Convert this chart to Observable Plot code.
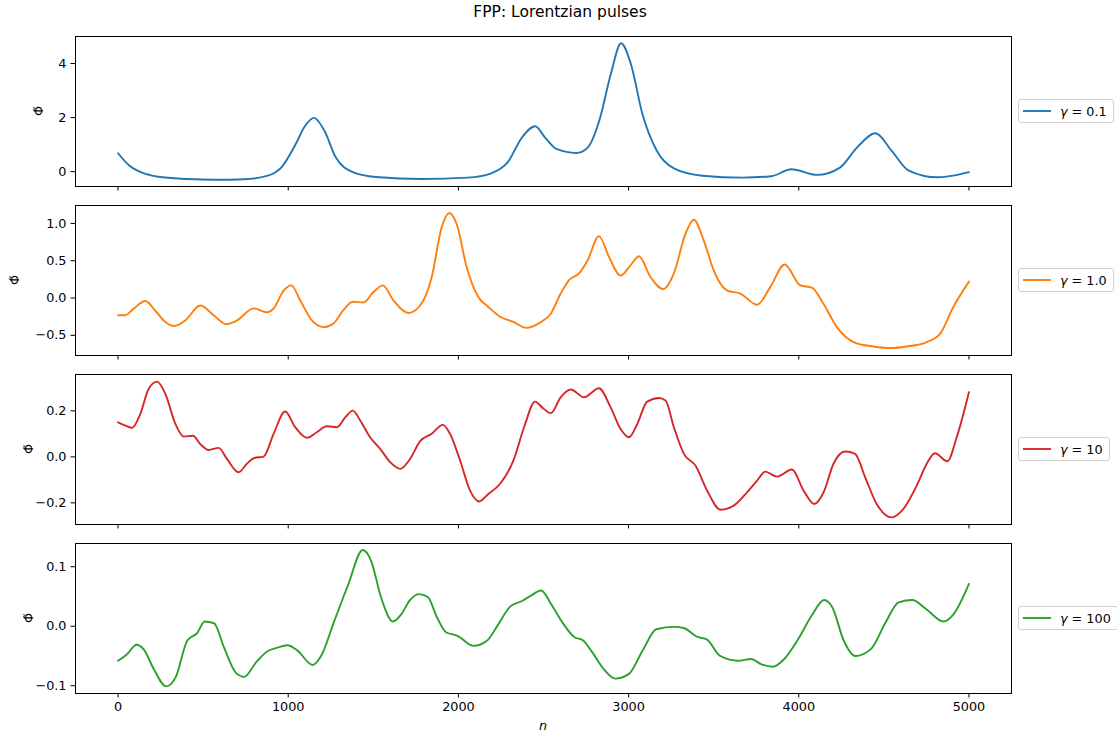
<!DOCTYPE html>
<html>
<head>
<meta charset="utf-8">
<script src="https://cdn.jsdelivr.net/npm/d3@7"></script>
<script src="https://cdn.jsdelivr.net/npm/@observablehq/plot@0.6"></script>
<style>
  html, body { margin: 0; padding: 0; background: #fff; }
  #fig { position: relative; width: 1117px; height: 735px; font-family: "DejaVu Sans", sans-serif; color: #000; overflow: hidden; }
  #title { position: absolute; top: 3px; left: 0; width: 1120px; text-align: center; font-size: 15.5px; }
  .panel { position: absolute; left: 0; }
  .legend { position: absolute; left: 1018px; height: 22px; border: 1px solid #d0d0d0; border-radius: 3px; background: #fff;
            display: flex; align-items: center; padding: 0 6px 0 4px; font-size: 12.8px; white-space: nowrap; }
  .legend svg { margin-right: 9px; }
  .legend i { font-style: italic; margin-right: 4px; }
  .ylabel { position: absolute; width: 40px; height: 20px; line-height: 20px; text-align: center; font-size: 12.8px;
            transform: translate(-50%, -50%) rotate(-90deg); }
  #xlabel { position: absolute; left: 543px; top: 725px; transform: translate(-50%, -50%); font-size: 12.8px; font-style: italic; }
</style>
</head>
<body>
<div id="fig">
  <div id="title">FPP: Lorentzian pulses</div>
  <div id="xlabel">n</div>
</div>
<script>
// Sample index n, shared by every panel
const nTicks = [0, 1000, 2000, 3000, 4000, 5000];

// γ = 0.1
const n01 = [0,67,135,236,404,572,741,875,960,1044,1094,1152,1212,1279,1380,1515,1785,2054,2189,2290,2374,2451,2508,2576,2694,2761,2828,2896,2956,3013,3081,3165,3266,3434,3670,3838,3956,4108,4242,4343,4451,4545,4646,4815,4916,5000];
const phi01 = [0.68,0.22,-0.02,-0.19,-0.27,-0.3,-0.28,-0.16,0.16,1.02,1.64,1.99,1.52,0.53,-0.02,-0.2,-0.27,-0.22,-0.07,0.35,1.27,1.68,1.27,0.84,0.69,0.9,1.89,3.62,4.75,3.99,2.14,0.78,0.12,-0.15,-0.22,-0.17,0.09,-0.12,0.15,0.9,1.42,0.78,0.04,-0.21,-0.14,-0.02];

// γ = 1.0
const n1 = [0,43,92,160,219,278,331,395,483,562,636,699,796,875,914,973,1018,1070,1139,1207,1266,1325,1380,1442,1501,1556,1618,1706,1775,1843,1902,1947,1990,2049,2117,2176,2245,2323,2401,2479,2543,2601,2650,2709,2758,2826,2885,2953,3012,3061,3129,3203,3266,3334,3383,3442,3500,3579,3657,3755,3833,3917,4009,4077,4146,4224,4322,4439,4537,4634,4752,4830,4908,5000];
const phi1 = [-0.23,-0.23,-0.142,-0.04,-0.17,-0.32,-0.374,-0.3,-0.1,-0.23,-0.35,-0.3,-0.138,-0.19,-0.14,0.1,0.17,-0.03,-0.3,-0.39,-0.34,-0.16,-0.05,-0.06,0.08,0.17,-0.03,-0.2,-0.1,0.28,0.95,1.14,0.99,0.41,0.015,-0.12,-0.25,-0.32,-0.4,-0.33,-0.21,0.06,0.24,0.33,0.5,0.83,0.55,0.3,0.44,0.56,0.28,0.12,0.33,0.86,1.05,0.77,0.37,0.1,0.06,-0.09,0.15,0.45,0.17,0.14,-0.08,-0.39,-0.59,-0.65,-0.67,-0.65,-0.59,-0.48,-0.12,0.22];

// γ = 10
const n10 = [0,43,82,131,180,229,278,337,386,440,483,532,591,640,708,757,800,855,914,982,1041,1110,1168,1227,1286,1335,1380,1423,1481,1540,1599,1658,1716,1775,1843,1908,1951,2010,2068,2121,2176,2245,2323,2392,2450,2499,2543,2601,2660,2738,2826,2894,2953,3002,3051,3109,3178,3217,3266,3325,3393,3461,3540,3618,3696,3755,3803,3872,3960,4028,4091,4146,4204,4273,4331,4390,4458,4546,4615,4693,4752,4800,4873,4928,5000];
const phi10 = [0.15,0.136,0.126,0.187,0.296,0.327,0.274,0.143,0.088,0.092,0.056,0.03,0.039,-0.009,-0.067,-0.03,-0.005,0.001,0.1,0.197,0.129,0.083,0.107,0.133,0.129,0.172,0.201,0.158,0.085,0.035,-0.023,-0.052,-0.009,0.068,0.1,0.139,0.1,-0.016,-0.146,-0.194,-0.161,-0.117,-0.016,0.143,0.24,0.21,0.19,0.259,0.293,0.259,0.298,0.216,0.121,0.085,0.143,0.24,0.256,0.245,0.129,0.013,-0.038,-0.146,-0.23,-0.212,-0.154,-0.103,-0.064,-0.086,-0.055,-0.146,-0.205,-0.154,-0.03,0.023,0.013,-0.089,-0.205,-0.263,-0.226,-0.125,-0.03,0.016,-0.019,0.085,0.281];

// γ = 100
const n100 = [0,53,108,151,210,283,338,407,466,509,564,623,692,741,810,878,937,996,1055,1143,1193,1271,1350,1438,1487,1546,1615,1664,1713,1766,1820,1874,1927,1995,2089,2169,2236,2304,2371,2424,2486,2545,2612,2680,2733,2787,2854,2921,3002,3082,3163,3270,3324,3405,3459,3539,3646,3719,3781,3848,3915,3996,4076,4149,4197,4264,4332,4425,4506,4587,4667,4748,4850,4909,5000];
const phi100 = [-0.058,-0.047,-0.031,-0.039,-0.072,-0.101,-0.086,-0.024,-0.011,0.008,0.005,-0.036,-0.078,-0.085,-0.061,-0.042,-0.036,-0.032,-0.041,-0.065,-0.05,0.009,0.068,0.128,0.11,0.048,0.008,0.02,0.043,0.054,0.049,0.015,-0.01,-0.016,-0.033,-0.024,0.004,0.033,0.042,0.051,0.06,0.037,0.006,-0.018,-0.024,-0.044,-0.072,-0.088,-0.08,-0.041,-0.005,-0.001,-0.003,-0.018,-0.022,-0.05,-0.058,-0.055,-0.064,-0.068,-0.055,-0.022,0.018,0.044,0.032,-0.024,-0.05,-0.038,0.004,0.04,0.044,0.029,0.008,0.02,0.071];

const gammaLabels = ["0.1", "1.0", "10", "100"];
const colors = ["#1f77b4", "#ff7f0e", "#d62728", "#2ca02c"];

const panels = [
  {n: n01,  phi: phi01,  domain: [-0.55, 5.0],    ticks: [0, 2, 4],           fmt: d3.format("d"),   labelX: 39},
  {n: n1,   phi: phi1,   domain: [-0.77, 1.24],   ticks: [-0.5, 0, 0.5, 1.0], fmt: d3.format(".1f"), labelX: 15},
  {n: n10,  phi: phi10,  domain: [-0.294, 0.358], ticks: [-0.2, 0, 0.2],      fmt: d3.format(".1f"), labelX: 29},
  {n: n100, phi: phi100, domain: [-0.113, 0.139], ticks: [-0.1, 0, 0.1],      fmt: d3.format(".1f"), labelX: 29}
];

const frameTops = [36, 205, 374, 543];
const fig = document.getElementById("fig");

panels.forEach((p, i) => {
  const last = i === panels.length - 1;
  const data = p.n.map((n, k) => ({n, phi: p.phi[k]}));
  const marginTop = 5;
  const chart = Plot.plot({
    width: 1117,
    height: last ? 192 : 169,
    marginLeft: 75,
    marginRight: 106,
    marginTop,
    marginBottom: last ? 37 : 14,
    x: {domain: [-250, 5250]},
    y: {domain: p.domain},
    style: {fontFamily: "DejaVu Sans, sans-serif", fontSize: "12.8px", color: "#000", background: "transparent", overflow: "visible"},
    marks: [
      Plot.axisX({ticks: nTicks, tickSize: 4.5, tickPadding: 4, tickFormat: last ? d3.format("d") : () => "", label: null}),
      Plot.axisY({ticks: p.ticks, tickSize: 4.5, tickPadding: 4.5, tickFormat: p.fmt, label: null}),
      Plot.line(data, {x: "n", y: "phi", stroke: colors[i], strokeWidth: 1.9, curve: "monotone-x"}),
      Plot.frame({stroke: "#000", strokeWidth: 1})
    ]
  });
  chart.classList.add("panel");
  chart.style.top = (frameTops[i] - marginTop) + "px";
  fig.appendChild(chart);

  // rotated y label Φ̃
  const yl = document.createElement("div");
  yl.className = "ylabel";
  yl.style.left = p.labelX + "px";
  yl.style.top = (frameTops[i] + 75) + "px";
  yl.textContent = "Φ\u0303";
  fig.appendChild(yl);

  // legend box on the right of each panel
  const leg = document.createElement("div");
  leg.className = "legend";
  leg.style.top = (frameTops[i] + 75 - 12) + "px";
  leg.innerHTML = `<svg width="28" height="4"><line x1="0" x2="28" y1="2" y2="2" stroke="${colors[i]}" stroke-width="1.9"/></svg><i>γ</i>= ${gammaLabels[i]}`;
  fig.appendChild(leg);
});
</script>
</body>
</html>
